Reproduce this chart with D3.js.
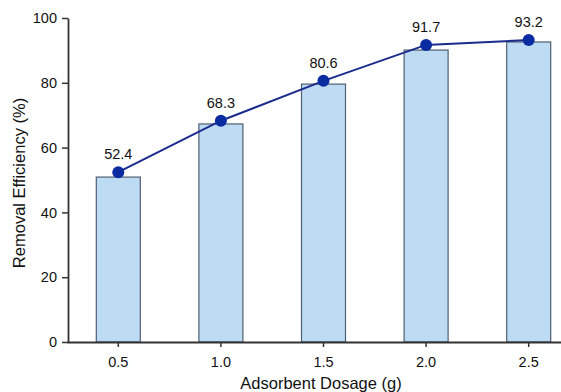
<!DOCTYPE html>
<html>
<head>
<meta charset="utf-8">
<script src="https://cdn.jsdelivr.net/npm/d3@7"></script>
<style>
  html, body { margin: 0; padding: 0; background: #fff; }
  svg { display: block; font-family: "Liberation Sans", Arial, sans-serif; }
</style>
</head>
<body>
<svg id="chart" width="561" height="392"></svg>
<script>
// Adsorbent dosage (g) and removal efficiency (%)
const dosages = ["0.5", "1.0", "1.5", "2.0", "2.5"];
const barValues = [50.9, 67.3, 79.6, 90.1, 92.6];
const lineValues = [52.4, 68.3, 80.6, 91.7, 93.2];
const yTicks = [0, 20, 40, 60, 80, 100];

const svg = d3.select("#chart");

const x = d3.scaleBand().domain(dosages).range([67, 580]).padding(0);
const y = d3.scaleLinear().domain([0, 100]).range([342, 18]);
const barWidth = 44;

// Bars
svg.append("g").selectAll("rect")
  .data(dosages)
  .join("rect")
  .attr("x", (d) => x(d) + x.bandwidth() / 2 - barWidth / 2)
  .attr("y", (d, i) => y(barValues[i]))
  .attr("width", barWidth)
  .attr("height", (d, i) => y(0) - y(barValues[i]))
  .attr("fill", "#bddcf4")
  .attr("stroke", "#4f5f70")
  .attr("stroke-width", 1.2);

// Axes
const xAxis = svg.append("g")
  .attr("transform", `translate(0,${y(0)})`)
  .call(d3.axisBottom(x).tickSize(5).tickSizeOuter(0).tickPadding(6));
const yAxis = svg.append("g")
  .attr("transform", `translate(${x.range()[0] + 1},0)`)
  .call(d3.axisLeft(y).tickValues(yTicks).tickSize(6).tickSizeOuter(0).tickPadding(5));

[xAxis, yAxis].forEach((g) => {
  g.select(".domain").attr("stroke", "#333").attr("stroke-width", 1.8);
  g.selectAll(".tick line").attr("stroke", "#333").attr("stroke-width", 1.5);
  g.selectAll(".tick text")
    .attr("fill", "#111")
    .style("font-size", "14.5px")
    .style("font-family", "'Liberation Sans', Arial, sans-serif");
});
xAxis.selectAll(".tick text").attr("dy", "0.95em");

// Trend line
const cx = (d) => x(d) + x.bandwidth() / 2;
const line = d3.line()
  .x((d) => cx(d))
  .y((d, i) => y(lineValues[i]));
svg.append("path")
  .datum(dosages)
  .attr("d", line)
  .attr("fill", "none")
  .attr("stroke", "#1b2b8e")
  .attr("stroke-width", 2);

// Points
svg.append("g").selectAll("circle")
  .data(dosages)
  .join("circle")
  .attr("cx", cx)
  .attr("cy", (d, i) => y(lineValues[i]))
  .attr("r", 6)
  .attr("fill", "#0b2ca0");

// Value labels
svg.append("g").selectAll("text")
  .data(dosages)
  .join("text")
  .attr("x", cx)
  .attr("y", (d, i) => y(lineValues[i]) - 13)
  .attr("text-anchor", "middle")
  .attr("fill", "#111")
  .style("font-size", "14.5px")
  .text((d, i) => lineValues[i].toFixed(1));

// Axis titles
svg.append("text")
  .attr("x", 321)
  .attr("y", 389)
  .attr("text-anchor", "middle")
  .attr("fill", "#111")
  .style("font-size", "16.5px")
  .text("Adsorbent Dosage (g)");

svg.append("text")
  .attr("transform", "translate(25,183) rotate(-90)")
  .attr("text-anchor", "middle")
  .attr("fill", "#111")
  .style("font-size", "16.5px")
  .text("Removal Efficiency (%)");
</script>
</body>
</html>
